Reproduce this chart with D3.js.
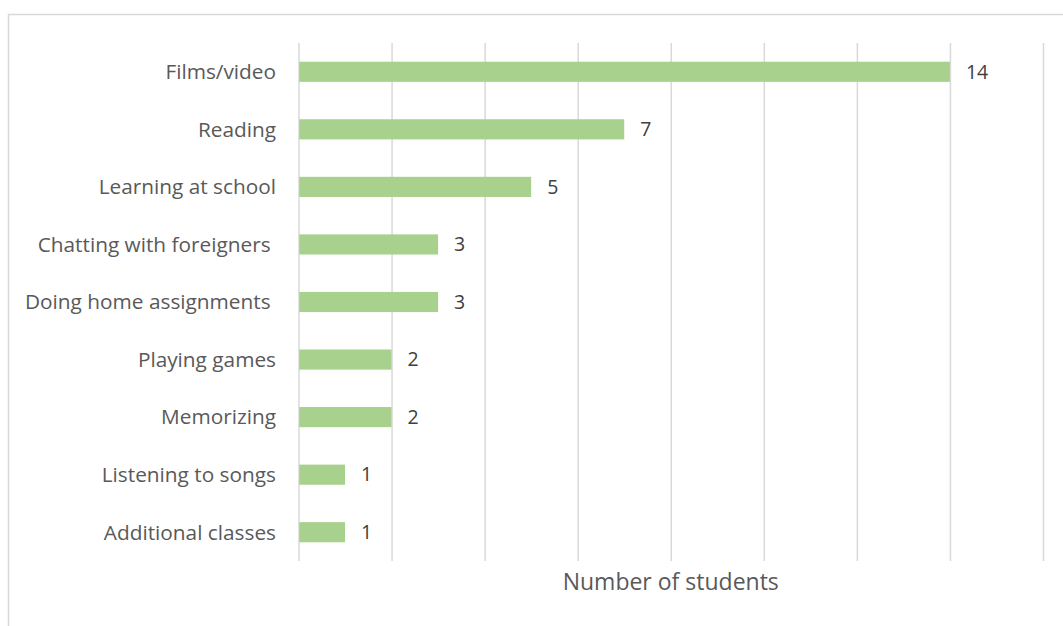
<!DOCTYPE html>
<html>
<head>
<meta charset="utf-8">
<script src="https://cdn.jsdelivr.net/npm/d3@7"></script>
<style>
  html, body { margin: 0; padding: 0; background: #fff; }
  svg { display: block; }
</style>
</head>
<body>
<svg id="chart" width="1063" height="626"></svg>
<script>
// Ways students learn, counted by number of students
const categories = [
  "Films/video",
  "Reading",
  "Learning at school",
  "Chatting with foreigners ",
  "Doing home assignments ",
  "Playing games",
  "Memorizing",
  "Listening to songs",
  "Additional classes"
];
const values = [14, 7, 5, 3, 3, 2, 2, 1, 1];
const gridTicks = [0, 2, 4, 6, 8, 10, 12, 14, 16];
const axisTitle = "Number of students";

const svg = d3.select("#chart");
const fontFamily = "'Open Sans', sans-serif";

// outer chart frame
svg.append("rect")
  .attr("x", 8.5).attr("y", 14.5)
  .attr("width", 1080).attr("height", 640)
  .attr("fill", "none")
  .attr("stroke", "#d9d9d9")
  .attr("stroke-width", 1.5);

const plot = { left: 298.5, right: 1043, top: 43, bottom: 561 };

const x = d3.scaleLinear().domain([0, 16]).range([plot.left, plot.right]);
const y = d3.scaleBand().domain(categories).range([plot.top, plot.bottom]).paddingInner(0.65).paddingOuter(0.325);

// vertical gridlines
svg.append("g")
  .attr("transform", `translate(0,${plot.bottom})`)
  .call(d3.axisBottom(x).tickValues(gridTicks).tickSize(plot.bottom - plot.top).tickFormat(""))
  .call(g => g.select(".domain").remove())
  .call(g => g.selectAll(".tick line")
    .attr("y2", -(plot.bottom - plot.top))
    .attr("stroke", "#d9d9d9")
    .attr("stroke-width", 1.5));

// bars
svg.append("g").selectAll("rect")
  .data(categories)
  .join("rect")
  .attr("x", x(0) + 0.75)
  .attr("y", d => y(d))
  .attr("width", (d, i) => x(values[i]) - x(0) - 0.75)
  .attr("height", y.bandwidth())
  .attr("fill", "#a9d18e");

// category labels
svg.append("g").selectAll("text")
  .data(categories)
  .join("text")
  .attr("x", 276)
  .attr("y", d => y(d) + y.bandwidth() / 2)
  .attr("dy", "0.35em")
  .attr("text-anchor", "end")
  .attr("xml:space", "preserve")
  .style("white-space", "pre")
  .attr("font-family", fontFamily)
  .attr("font-size", 20.8)
  .attr("fill", "#595959")
  .text(d => d);

// value labels
svg.append("g").selectAll("text")
  .data(categories)
  .join("text")
  .attr("x", (d, i) => x(values[i]) + 16)
  .attr("y", d => y(d) + y.bandwidth() / 2)
  .attr("dy", "0.35em")
  .attr("font-family", fontFamily)
  .attr("font-size", 19.5)
  .attr("fill", "#404040")
  .text((d, i) => values[i]);

// axis title
svg.append("text")
  .attr("x", (plot.left + plot.right) / 2)
  .attr("y", 590)
  .attr("text-anchor", "middle")
  .attr("font-family", fontFamily)
  .attr("font-size", 23)
  .attr("fill", "#595959")
  .text(axisTitle);
</script>
</body>
</html>
